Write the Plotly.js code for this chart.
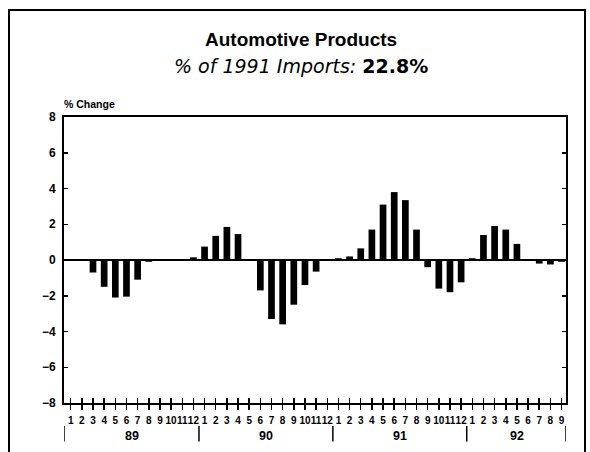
<!DOCTYPE html>
<html>
<head>
<meta charset="utf-8">
<script src="https://cdn.plot.ly/plotly-3.0.1.min.js"></script>
<style>
  html, body { margin: 0; padding: 0; background: #fff; }
  #wrap { position: relative; width: 590px; height: 452px; overflow: hidden; }
  #chart { width: 590px; height: 452px; }
  #frame { position: absolute; left: 8px; top: 9px; width: 574px; height: 470px;
           border: 2px solid #000; border-bottom: none; pointer-events: none; }
</style>
</head>
<body>
<div id="wrap">
  <div id="chart"></div>
  <div id="frame"></div>
</div>
<script>
// ---- data (monthly % change) ----
const years = ['89', '90', '91', '92'];
const values89 = [0.05, -0.05, -0.7, -1.5, -2.1, -2.05, -1.1, -0.1, 0.05, 0.05, 0.05, 0.15];
const values90 = [0.75, 1.35, 1.85, 1.45, 0.05, -1.7, -3.3, -3.6, -2.5, -1.4, -0.65, 0.05];
const values91 = [0.1, 0.2, 0.65, 1.7, 3.1, 3.8, 3.35, 1.7, -0.4, -1.6, -1.8, -1.25];
const values92 = [0.1, 1.4, 1.9, 1.7, 0.9, 0.05, -0.2, -0.25, -0.1];
const monthLabels = ['1','2','3','4','5','6','7','8','9','10','11','12'];
const yTickVals = [8, 6, 4, 2, 0, -2, -4, -6, -8];

// ---- build series ----
const perYear = [values89, values90, values91, values92];
const xs = [], ys = [], tickText = [];
const yearStart = [], yearEnd = [];
let idx = 0;
perYear.forEach(function (vals) {
  yearStart.push(idx);
  vals.forEach(function (v, m) {
    xs.push(idx); ys.push(v); tickText.push(monthLabels[m]); idx++;
  });
  yearEnd.push(idx - 1);
});
const n = xs.length;
const xRange = [-0.6, n - 1 + 0.4];

const fontFam = '"Liberation Sans", Arial, Helvetica, sans-serif';
const wideFam = '"DejaVu Sans", "Liberation Sans", Arial, sans-serif';

const traces = [
  { type: 'bar', x: xs, y: ys, marker: { color: '#000', line: { width: 0 } },
    hoverinfo: 'x+y', showlegend: false },
  { type: 'scatter', x: [], y: [], xaxis: 'x2', yaxis: 'y', showlegend: false, hoverinfo: 'skip' }
];

// separators and year labels below the month ticks
const shapes = [];
const annotations = [];
const sepY0 = -0.08, sepY1 = -0.135;
shapes.push({ type: 'line', xref: 'x', yref: 'paper', x0: xRange[0], x1: xRange[0], y0: sepY0, y1: sepY1,
              line: { color: '#000', width: 1.5 } });
years.forEach(function (yr, i) {
  const boundary = (i < years.length - 1) ? yearEnd[i] + 0.5 : xRange[1];
  shapes.push({ type: 'line', xref: 'x', yref: 'paper', x0: boundary, x1: boundary, y0: sepY0, y1: sepY1,
                line: { color: '#000', width: 1.5 } });
  annotations.push({ xref: 'x', yref: 'paper', x: (yearStart[i] + yearEnd[i]) / 2, y: -0.115,
                     text: yr, showarrow: false, xanchor: 'center', yanchor: 'middle',
                     font: { family: fontFam, size: 12.5, color: '#000', weight: 'bold' } });
});

annotations.push({ xref: 'paper', yref: 'paper', x: 0.472, y: 1.27, showarrow: false,
  text: '<b>Automotive Products</b>', xanchor: 'center', yanchor: 'middle',
  font: { family: fontFam, size: 19, color: '#000' } });
annotations.push({ xref: 'paper', yref: 'paper', x: 0.472, y: 1.178, showarrow: false,
  text: '<i>% of 1991 Imports:</i> <b>22.8%</b>', xanchor: 'center', yanchor: 'middle',
  font: { family: wideFam, size: 19, color: '#000' } });
annotations.push({ xref: 'paper', yref: 'paper', x: -0.004, y: 1.045, showarrow: false,
  text: '<b>% Change</b>', xanchor: 'left', yanchor: 'middle',
  font: { family: fontFam, size: 10.5, color: '#000' } });

const layout = {
  width: 590, height: 452,
  margin: { l: 64, r: 24, t: 117, b: 49, pad: 0 },
  paper_bgcolor: '#fff', plot_bgcolor: '#fff',
  bargap: 0.4,
  showlegend: false,
  font: { family: fontFam, color: '#000' },
  xaxis: {
    range: xRange, tickmode: 'array', tickvals: xs, ticktext: tickText,
    tickangle: 0, ticks: 'outside', ticklen: 5, tickwidth: 1.5, tickcolor: '#000',
    showline: true, linecolor: '#000', linewidth: 2, mirror: true,
    showgrid: false, zeroline: false, ticklabelstandoff: 2,
    tickfont: { family: fontFam, size: 10, color: '#000', weight: 'bold' }
  },
  xaxis2: {
    overlaying: 'x', anchor: 'y', side: 'bottom', range: xRange,
    tickmode: 'array', tickvals: xs, ticks: 'inside', ticklen: 5, tickwidth: 1.5, tickcolor: '#000',
    showticklabels: false, showgrid: false, zeroline: false, showline: false
  },
  yaxis: {
    range: [-8, 8], tickmode: 'array', tickvals: yTickVals,
    ticks: 'inside', ticklen: 4, tickwidth: 1.5, tickcolor: '#000',
    showline: true, linecolor: '#000', linewidth: 2, mirror: 'ticks',
    showgrid: false, zeroline: true, zerolinecolor: '#000', zerolinewidth: 2,
    ticklabelstandoff: 4,
    tickfont: { family: fontFam, size: 12, color: '#000', weight: 'bold' }
  },
  shapes: shapes,
  annotations: annotations
};

Plotly.newPlot('chart', traces, layout, { staticPlot: true, displayModeBar: false });
</script>
</body>
</html>
